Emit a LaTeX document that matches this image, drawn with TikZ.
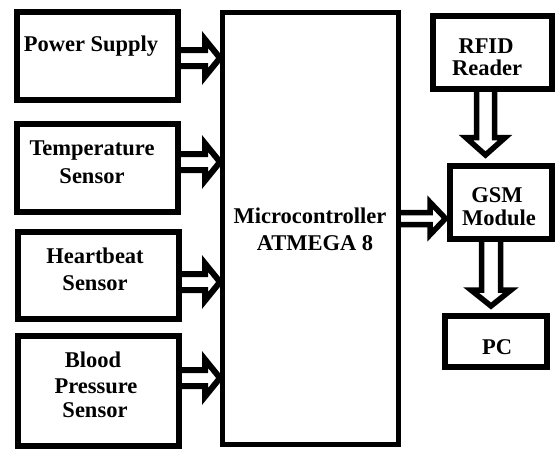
\documentclass[tikz,border=0pt]{standalone}
\usepackage{fontspec}
\setmainfont{Liberation Serif}
\usetikzlibrary{calc}
% #1 style, #2 from, #3 to, #4 y, #5 shaft half, #6 head half, #7 head base offset, #8 tip offset
\newcommand{\harrowblk}[8]{%
 \draw[#1] ($(#2.east|-0,#4)+(0,#5)$) -- ($(#3.west|-0,#4)+(-#7,#5)$) -- ($(#3.west|-0,#4)+(-#7,#6)$) -- ($(#3.west|-0,#4)+(-#8,0)$) -- ($(#3.west|-0,#4)+(-#7,-#6)$) -- ($(#3.west|-0,#4)+(-#7,-#5)$) -- ($(#2.east|-0,#4)+(0,-#5)$);}
\newcommand{\varrowblk}[8]{%
 \draw[#1] ($(#4,0|-#2.south)+(#5,0)$) -- ($(#4,0|-#3.north)+(#5,-#7)$) -- ($(#4,0|-#3.north)+(#6,-#7)$) -- ($(#4,0|-#3.north)+(0,-#8)$) -- ($(#4,0|-#3.north)+(-#6,-#7)$) -- ($(#4,0|-#3.north)+(-#5,-#7)$) -- ($(#4,0|-#2.south)+(-#5,0)$);}
\begin{document}
\begin{tikzpicture}[x=1pt,y=-1pt,
  box/.style={draw=black, line width=5.5pt, inner sep=0pt, outer sep=0pt},
  txt/.style={font=\fontsize{22.5}{27}\selectfont\bfseries, inner sep=0pt, anchor=base, text=black},
  blk/.style={draw=black, line width=6pt, line join=miter},
  blkr/.style={draw=black, line width=5.5pt, line join=miter}]
\fill[white] (0,0) rectangle (557,450);
\useasboundingbox (0,0) rectangle (557,450);
% boxes
\node[box, minimum width=161pt, minimum height=88pt] (ps) at (97.5,56) {};
\node[box, minimum width=161pt, minimum height=88pt] (ts) at (97.5,168) {};
\node[box, minimum width=161pt, minimum height=87pt] (hs) at (98.5,275.5) {};
\node[box, minimum width=161pt, minimum height=110pt] (bp) at (98.5,391) {};
\node[box, line width=5pt, minimum width=176pt, minimum height=432pt] (mc) at (310,228) {};
\node[box, minimum width=119pt, minimum height=73pt] (rfid) at (492.5,52.5) {};
\node[box, minimum width=102pt, minimum height=73pt] (gsm) at (501,202.5) {};
\node[box, minimum width=102pt, minimum height=51pt] (pc) at (496,341.5) {};
% texts
\node[txt] (psT) at (91,51) {Power Supply};
\node[txt] (tsA) at (92,155) {Temperature};
\node[txt] (tsB) at (92,183) {Sensor};
\node[txt] (hsA) at (95,263) {Heartbeat};
\node[txt] (hsB) at (95,290) {Sensor};
\node[txt] (bpA) at (93,367) {Blood};
\node[txt] (bpB) at (96,393) {Pressure};
\node[txt] (bpC) at (95,417) {Sensor};
\node[txt] (mcA) at (310,223) {Microcontroller};
\node[txt] (mcB) at (315,250) {ATMEGA 8};
\node[txt] (rfA) at (486,53) {RFID};
\node[txt] (rfB) at (487,75) {Reader};
\node[txt] (gsA) at (497,202) {GSM};
\node[txt] (gsB) at (499,225) {Module};
\node[txt] (pcT) at (497,354) {PC};
% block arrows
\harrowblk{blk}{ps}{mc}{58}{8}{18.5}{17}{2}
\harrowblk{blk}{ts}{mc}{162}{8}{18.5}{17}{2}
\harrowblk{blk}{hs}{mc}{282}{8}{18.5}{17}{2}
\harrowblk{blk}{bp}{mc}{378}{8}{18.5}{17}{2}
\harrowblk{blkr}{mc}{gsm}{218.5}{6}{16.3}{20}{4.5}
\varrowblk{blkr}{rfid}{gsm}{485.5}{9}{19.7}{28.5}{11}
\varrowblk{blkr}{gsm}{pc}{491}{9.5}{20}{26}{10}
\end{tikzpicture}
\end{document}
